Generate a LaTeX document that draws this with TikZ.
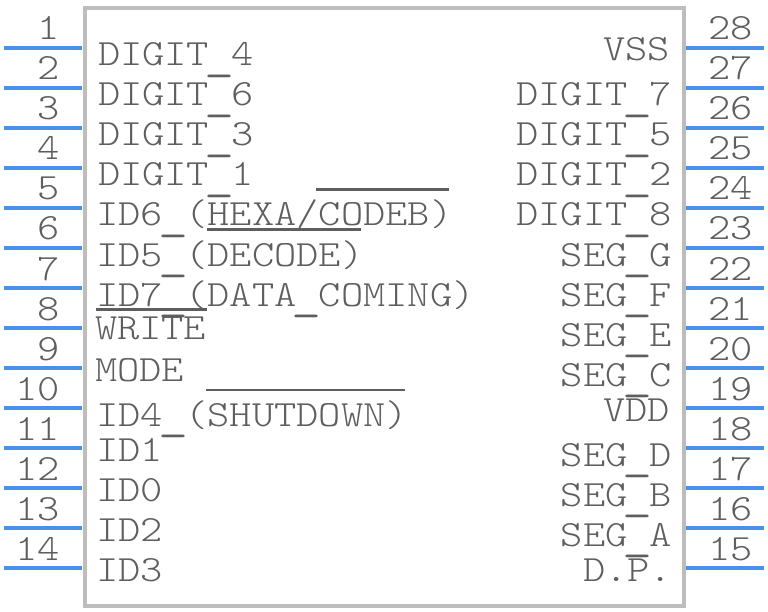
\documentclass[tikz,border=0pt]{standalone}
\usepackage{fontspec}
\newfontfamily\chipfont[FakeStretch=1.145]{Latin Modern Mono Light}
\newcommand\lowus{\makebox[22.24pt]{\hspace{-2pt}\raisebox{-2.5pt}{\scalebox{1.35}[1.4]{\char95}}}}
\definecolor{chipbox}{HTML}{BDBDBD}
\definecolor{chippin}{HTML}{4A90E8}
\definecolor{chiptext}{HTML}{5E5E5E}
\tikzset{
  x=1pt,y=-1pt,
  chipbody/.style={draw=chipbox,line width=4pt,fill=white},
  pinline/.style={draw=chippin,line width=4pt},
  bar/.style={draw=chiptext,line width=2.5pt},
  lab/.style={inner sep=0pt,outer sep=0pt,text=chiptext,font=\chipfont\fontsize{37}{37}\selectfont},
  lw/.style={lab,anchor=base west},
  le/.style={lab,anchor=base east},
}
\begin{document}
\begin{tikzpicture}
\useasboundingbox (0,0) rectangle (768,612);
\fill[white] (0,0) rectangle (768,612);
\coordinate (boxA) at (84.5,8.5);
\coordinate (boxB) at (684,606);
\draw[chipbody] (boxA) rectangle (boxB);
% pins
\foreach \n in {1,...,14}{
  \pgfmathsetmacro{\py}{48+40*(\n-1)}
  \coordinate (a\n) at (4,\py);
  \coordinate (b\n) at (82,\py);
  \draw[pinline] (a\n) -- (b\n);
  \pgfmathsetmacro{\ty}{\py-8}
  \node[le] (pn\n) at (60,\ty) {\n};
}
\foreach \n in {15,...,28}{
  \pgfmathsetmacro{\py}{48+40*(28-\n)}
  \coordinate (a\n) at (686,\py);
  \coordinate (b\n) at (764,\py);
  \draw[pinline] (a\n) -- (b\n);
  \pgfmathsetmacro{\ty}{\py-8}
  \node[lw] (pn\n) at (708,\ty) {\n};
}
% left labels
\node[lw] (l1) at (98,66) {DIGIT\lowus4};
\node[lw] (l2) at (98,106) {DIGIT\lowus6};
\node[lw] (l3) at (98,146) {DIGIT\lowus3};
\node[lw] (l4) at (98,186) {DIGIT\lowus1};
\node[lw] (l5) at (96.5,226) {ID6\lowus(HEXA/CODEB)};
\node[lw] (l6) at (96.5,266) {ID5\lowus(DECODE)};
\node[lw] (l7) at (96.5,306) {ID7\lowus(DATA\lowus COMING)};
\node[lw] (l8) at (95,339) {WRITE};
\node[lw] (l9) at (95,381) {MODE};
\node[lw] (l10) at (96.5,426) {ID4\lowus(SHUTDOWN)};
\node[lw] (l11) at (96.5,461) {ID1};
\node[lw] (l12) at (96.5,501) {ID0};
\node[lw] (l13) at (96.5,541) {ID2};
\node[lw] (l14) at (96.5,581) {ID3};
% right labels
\node[le] (r28) at (670,61) {VSS};
\node[le] (r27) at (672,106) {DIGIT\lowus7};
\node[le] (r26) at (672,146) {DIGIT\lowus5};
\node[le] (r25) at (672,186) {DIGIT\lowus2};
\node[le] (r24) at (672,226) {DIGIT\lowus8};
\node[le] (r23) at (672,266) {SEG\lowus G};
\node[le] (r22) at (672,306) {SEG\lowus F};
\node[le] (r21) at (672,346) {SEG\lowus E};
\node[le] (r20) at (672,386) {SEG\lowus C};
\node[le] (r19) at (670,421) {VDD};
\node[le] (r18) at (672,466) {SEG\lowus D};
\node[le] (r17) at (672,506) {SEG\lowus B};
\node[le] (r16) at (672,546) {SEG\lowus A};
\node[le] (r15) at (672,581) {D.P.};
% overbars
\draw[bar] (316,189.5) -- (449,189.5);
\draw[bar] (207,229.5) -- (361,229.5);
\draw[bar] (96,309.5) -- (207,309.5);
\draw[bar] (206,390) -- (405,390);
\end{tikzpicture}
\end{document}
